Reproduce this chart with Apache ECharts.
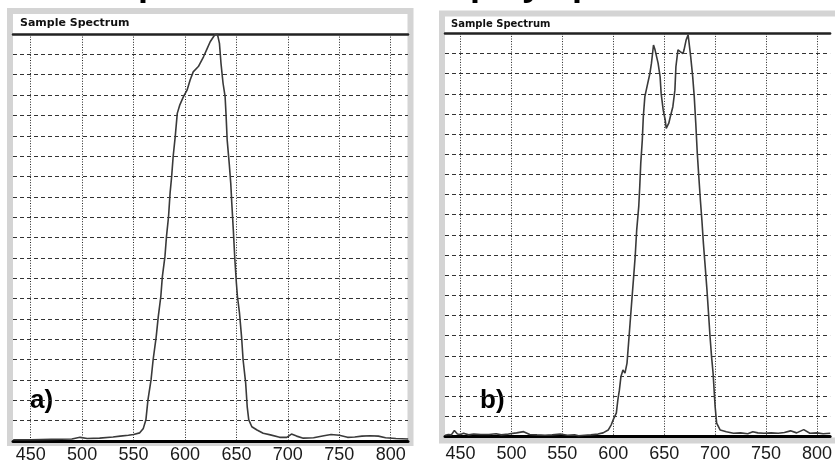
<!DOCTYPE html>
<html>
<head>
<meta charset="utf-8">
<script src="https://cdn.jsdelivr.net/npm/echarts@6/dist/echarts.min.js"></script>
<style>
html,body{margin:0;padding:0;background:#fff;}
#c{width:835px;height:465px;}
</style>
</head>
<body>
<div id="c"></div>
<script>
// ---- data ----
var tickLabels = [450, 500, 550, 600, 650, 700, 750, 800];

var aWavelength = [433, 450, 470, 490, 498, 505, 517, 530, 537, 545, 550, 556, 559.5, 562, 564, 567, 569, 572, 574, 576.5, 578, 580.5, 582, 584, 585.5, 587, 588.5, 590.5, 592.5, 595, 598.5, 602, 605, 608, 613, 618, 621, 624.5, 629, 631.5, 633.5, 635, 637, 639, 640, 641, 643, 644.5, 645.5, 647, 648.5, 650, 651, 653, 655, 656.5, 659, 660.5, 662, 665, 670, 676, 683, 692, 699, 703.5, 708.5, 715, 725, 735, 742, 750, 758, 765, 772, 780, 788, 795, 805, 817];
var aIntensity = [0.3, 0.3, 0.4, 0.5, 0.9, 0.6, 0.7, 1.0, 1.2, 1.4, 1.6, 2.0, 3.1, 5.2, 10.1, 15, 19.9, 25.6, 30.5, 35.5, 40.4, 45.3, 50.2, 55.1, 60.9, 64.9, 69.9, 74.8, 80.5, 82.6, 84.6, 86.2, 88.7, 90.7, 92, 94.4, 96.1, 98.1, 99.8, 100, 97.7, 92.8, 87.9, 84.6, 79.7, 74, 68.2, 63.3, 58.4, 51.8, 44.5, 38.7, 35.5, 31.4, 25.6, 19.9, 14.2, 8.4, 5.2, 3.5, 2.7, 1.9, 1.5, 0.9, 0.9, 1.7, 1.2, 0.7, 0.8, 1.3, 1.6, 1.4, 0.9, 1.0, 1.2, 1.3, 1.2, 0.8, 0.6, 0.5];

var bWavelength = [435, 438, 441, 444, 447, 450, 453, 458, 463, 470, 478, 485, 490, 497, 505, 512, 518, 525, 533, 540, 548, 555, 562, 566, 572, 578, 585, 590, 595, 598, 600.5, 603, 604.5, 606, 607.5, 609.5, 611.5, 613.5, 615, 616.5, 618.5, 620, 621.5, 623, 625, 626, 627, 628.5, 629.5, 631, 633.5, 636, 637.5, 639.5, 641, 642.5, 644, 646, 647, 649, 651, 652, 654.5, 656, 658.5, 660.5, 661.5, 663.5, 666, 668.5, 669.5, 671.5, 673.5, 675, 676, 678, 679.5, 681, 682.5, 684, 685.5, 687, 688.5, 690, 692, 693.5, 695, 696.5, 698, 700, 701.5, 705, 711, 718, 725, 732, 737, 742, 748, 755, 762, 768, 774, 780, 787, 793, 800, 806, 813];
var bIntensity = [0.3, 0.5, 0.4, 1.5, 0.6, 0.5, 0.8, 0.4, 0.6, 0.5, 0.5, 0.7, 0.4, 0.6, 0.9, 1.2, 0.5, 0.4, 0.3, 0.4, 0.6, 0.3, 0.4, 0.2, 0.3, 0.4, 0.6, 0.9, 1.6, 2.9, 4.5, 5.8, 9.1, 11.5, 14.8, 16.5, 15.7, 18.2, 23.1, 28.1, 34.7, 39.6, 44.6, 51.2, 57, 62, 67.8, 73.5, 79.3, 84.3, 87.2, 90.1, 92.6, 97.1, 95.9, 96.3, 92.6, 89.2, 85.1, 81, 78.5, 76.4, 77.7, 79.3, 81.8, 85.9, 91.7, 95.9, 95.4, 95, 95.9, 98.3, 99.6, 99.2, 94.2, 89.2, 84.3, 77.7, 70.2, 64.4, 58.7, 53.7, 47.9, 43, 36.3, 30.6, 24.8, 19.8, 15.7, 7.4, 3.3, 1.6, 1.2, 0.8, 0.9, 0.7, 1.2, 0.9, 0.8, 0.9, 0.8, 1.0, 1.4, 0.9, 1.7, 0.8, 0.9, 0.7, 0.8];

var panelTitle = 'Sample Spectrum';
var panelLabels = ['a)', 'b)'];
var headingLeft = 'Source spectrum';
var headingRight = 'Display spectrum';

function zip(xs, ys) { return xs.map(function (x, i) { return [x, ys[i]]; }); }

var chart = echarts.init(document.getElementById('c'));

function bottomAxis(gi, mn, mx, margin) {
  return {
    gridIndex: gi, type: 'value', min: mn, max: mx, position: 'bottom',
    axisLine: { onZero: false, lineStyle: { color: '#000', width: 3 } },
    axisTick: { show: false, customValues: tickLabels },
    axisLabel: { customValues: tickLabels, fontSize: 18, color: '#1a1a1a', margin: margin, fontFamily: 'Liberation Sans, Arial, sans-serif' },
    splitLine: { show: true, lineStyle: { color: '#222', width: 1, type: [1, 1.6] } }
  };
}
function topAxis(gi, mn, mx) {
  return {
    gridIndex: gi, type: 'value', min: mn, max: mx, position: 'top',
    axisLine: { onZero: false, lineStyle: { color: '#222', width: 2.5 } },
    axisTick: { show: false }, axisLabel: { show: false }, splitLine: { show: false }
  };
}
function yAx(gi) {
  return {
    gridIndex: gi, type: 'value', min: 0, max: 100, interval: 5,
    axisLine: { show: false }, axisTick: { show: false }, axisLabel: { show: false },
    splitLine: { show: true, lineStyle: { color: '#333', width: 1, type: [4, 3] } }
  };
}

var option = {
  backgroundColor: '#fff',
  animation: false,
  grid: [
    { left: 13, top: 34, width: 395, height: 407 },
    { left: 445, top: 33.3, width: 390, height: 403.2 }
  ],
  xAxis: [
    bottomAxis(0, 432.8, 816.8, 5), topAxis(0, 432.8, 816.8),
    bottomAxis(1, 434.8, 812.9, 9), topAxis(1, 434.8, 812.9)
  ],
  yAxis: [yAx(0), yAx(1)],
  series: [
    { type: 'line', xAxisIndex: 0, yAxisIndex: 0, data: zip(aWavelength, aIntensity), showSymbol: false, symbol: 'none',
      lineStyle: { color: '#3a3a3a', width: 1.6 }, z: 5 },
    { type: 'line', xAxisIndex: 2, yAxisIndex: 1, data: zip(bWavelength, bIntensity), showSymbol: false, symbol: 'none',
      lineStyle: { color: '#3a3a3a', width: 1.6 }, z: 5 }
  ],
  graphic: [
    { type: 'rect', z: -10, shape: { x: 10, y: 11, width: 400.5, height: 432 }, style: { fill: 'none', stroke: '#d4d4d4', lineWidth: 6 } },
    { type: 'rect', z: -10, shape: { x: 442, y: 13.5, width: 420, height: 427 }, style: { fill: 'none', stroke: '#d4d4d4', lineWidth: 6 } },
    { type: 'text', x: 20, y: 18, style: { text: panelTitle, font: 'bold 11px "DejaVu Sans"', fill: '#111' } },
    { type: 'text', x: 451, y: 19, style: { text: panelTitle, font: 'bold 10px "DejaVu Sans"', fill: '#111' } },
    { type: 'text', x: 30, y: 414, style: { text: panelLabels[0], font: 'bold 26px "Liberation Sans"', fill: '#000', verticalAlign: 'bottom' } },
    { type: 'text', x: 480, y: 414, style: { text: panelLabels[1], font: 'bold 26px "Liberation Sans"', fill: '#000', verticalAlign: 'bottom' } },
    { type: 'text', x: -14, y: -14.5, style: { text: headingLeft, font: 'bold 36px "Liberation Sans"', fill: '#000', verticalAlign: 'middle' } },
    { type: 'text', x: 414, y: -14.5, style: { text: headingRight, font: 'bold 36px "Liberation Sans"', fill: '#000', verticalAlign: 'middle' } }
  ]
};
chart.setOption(option);
</script>
</body>
</html>
